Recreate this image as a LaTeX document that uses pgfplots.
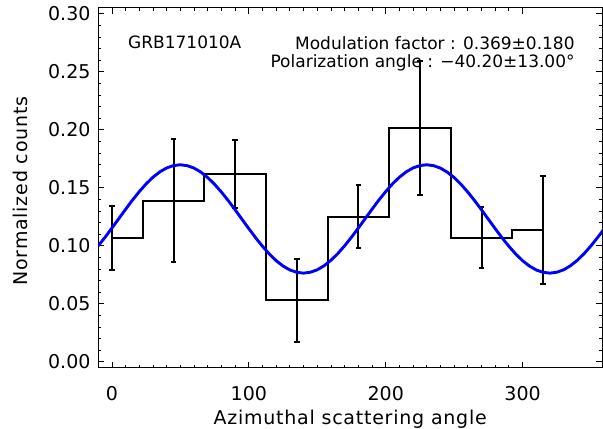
\documentclass[border=0pt]{standalone}
\usepackage{pgfplots}
\pgfplotsset{compat=1.18}
\usepackage{fontspec}
\setmainfont{DejaVu Sans}
\newfontfamily\labelfont{DejaVu Sans}[LetterSpace=4]
\pgfplotstableread{
x y e
0 0.1066 0.0277
45 0.1388 0.0531
90 0.1621 0.0293
135 0.0532 0.0358
180 0.1253 0.0268
225 0.2014 0.0579
270 0.1072 0.0262
315 0.1138 0.0466
}\histdata
\begin{document}
\fontsize{17bp}{20bp}\selectfont
\begin{tikzpicture}
\path[use as bounding box] (-98.3bp,-61.3bp) rectangle (504.7bp,367.7bp);
\begin{axis}[
  at={(0,0)}, anchor=south west,
  scale only axis, width=503.7bp, height=359.7bp,
  xmin=-10, xmax=358, ymin=-0.005, ymax=0.305,
  xtick={0,100,200,300}, minor x tick num=9,
  ytick={0,0.05,0.10,0.15,0.20,0.25,0.30}, minor y tick num=4,
  tick align=inside, xtick pos=both, ytick pos=both,
  xticklabel pos=lower, yticklabel pos=left,
  major tick length=6bp, minor tick length=3bp,
  every tick/.style={black, line width=0.9bp},
  axis line style={black, line width=1bp},
  /pgf/number format/.cd, fixed, fixed zerofill, precision=2, assume math mode=true,
  /pgfplots/.cd,
  xticklabel={\pgfmathprintnumber[fixed, precision=0]{\tick}},
  tick label style={font=\fontsize{19bp}{22bp}\selectfont},
  xticklabel style={yshift=-13bp},
  yticklabel style={xshift=-2bp},
  xlabel={Azimuthal scattering angle},
  ylabel={Normalized counts},
  label style={font=\labelfont\fontsize{19bp}{22bp}\selectfont},
  xlabel style={at={(axis description cs:0.5,0)}, anchor=center, yshift=-52bp},
  ylabel style={at={(axis description cs:-0.155,0.491)}, anchor=center},
  clip=true,
]
\addplot[black, line width=2bp, const plot mark mid, mark=none]
  table[x=x, y=y]{\histdata};
\addplot[draw=none, mark=none,
  error bars/.cd, y dir=both, y explicit,
  error bar style={draw=black, solid, line width=2bp},
  error mark options={rotate=90, mark size=2.8bp, line width=2bp, draw=black}]
  table[x=x, y=y, y error=e]{\histdata};
\addplot[blue, line width=2.9bp, mark=none] coordinates {
(-10,0.1001) (-5,0.1075) (0,0.1154) (5,0.1235) (10,0.1316) (15,0.1395) (20,0.1468) (25,0.1535) (30,0.1592) (35,0.1638) (40,0.1672) (45,0.1692) (50,0.1699) (55,0.1691) (60,0.1670) (65,0.1635) (70,0.1588) (75,0.1530) (80,0.1463) (85,0.1389) (90,0.1310) (95,0.1229) (100,0.1148) (105,0.1069) (110,0.0996) (115,0.0929) (120,0.0872) (125,0.0826) (130,0.0792) (135,0.0772) (140,0.0765) (145,0.0773) (150,0.0794) (155,0.0829) (160,0.0876) (165,0.0934) (170,0.1001) (175,0.1075) (180,0.1154) (185,0.1235) (190,0.1316) (195,0.1395) (200,0.1468) (205,0.1535) (210,0.1592) (215,0.1638) (220,0.1672) (225,0.1692) (230,0.1699) (235,0.1691) (240,0.1670) (245,0.1635) (250,0.1588) (255,0.1530) (260,0.1463) (265,0.1389) (270,0.1310) (275,0.1229) (280,0.1148) (285,0.1069) (290,0.0996) (295,0.0929) (300,0.0872) (305,0.0826) (310,0.0792) (315,0.0772) (320,0.0765) (325,0.0773) (330,0.0794) (335,0.0829) (340,0.0876) (345,0.0934) (350,0.1001) (355,0.1075) (360,0.1154)
};
\node[anchor=north west, inner sep=0pt, font=\fontsize{17bp}{18bp}\selectfont] at (rel axis cs:0.059,0.922) {GRB171010A};
\node[anchor=north east, inner sep=0pt, align=right, font=\fontsize{17bp}{18bp}\selectfont] at (rel axis cs:0.946,0.922) {Modulation factor : 0.369±0.180\\Polarization angle : −40.20±13.00°};
\end{axis}
\end{tikzpicture}
\end{document}
